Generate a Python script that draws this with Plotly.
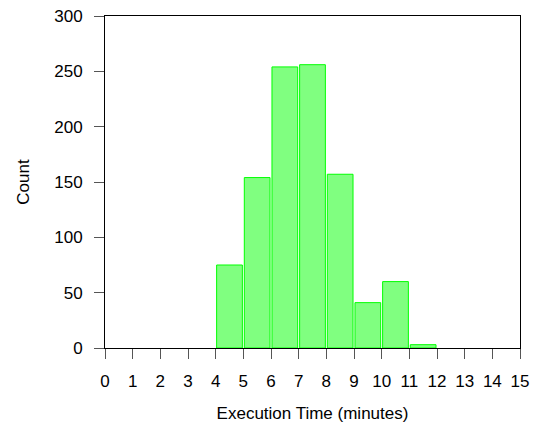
import plotly.graph_objects as go

bin_starts = [4, 5, 6, 7, 8, 9, 10, 11]
counts = [75, 154, 254, 256, 157, 41, 60, 3]
x_ticks = list(range(0, 16))
y_ticks = [0, 50, 100, 150, 200, 250, 300]

centers = [b + 0.5 for b in bin_starts]

fig = go.Figure(go.Bar(
    x=centers, y=counts, width=0.93,
    marker=dict(color="#80FF80", line=dict(color="#00FF00", width=1)),
))

font = "Liberation Sans, Arial, Helvetica, sans-serif"
fig.update_layout(
    width=530, height=417,
    margin=dict(l=97, r=18, t=8, b=77, autoexpand=False),
    plot_bgcolor="white", paper_bgcolor="white",
    font=dict(family=font, size=17, color="black"),
    showlegend=False,
)
fig.update_xaxes(
    range=[0, 15], tickvals=x_ticks, ticktext=[str(v) for v in x_ticks],
    showgrid=False, zeroline=False, automargin=False,
    showline=True, linecolor="black", linewidth=1, mirror=True,
    ticks="outside", ticklen=10, tickcolor="#555", tickwidth=1,
    ticklabelstandoff=8, ticklabeloverflow="allow",
    title=dict(text="Execution Time (minutes)", font=dict(size=17), standoff=16),
)
fig.update_yaxes(
    range=[0, 300], tickvals=y_ticks,
    showgrid=False, zeroline=False, automargin=False,
    showline=True, linecolor="black", linewidth=1, mirror=True,
    ticks="outside", ticklen=10, tickcolor="#555", tickwidth=1,
    ticklabelstandoff=8, ticklabeloverflow="allow",
    title=dict(text="Count", font=dict(size=17), standoff=20),
)

fig.write_html("out.html")
